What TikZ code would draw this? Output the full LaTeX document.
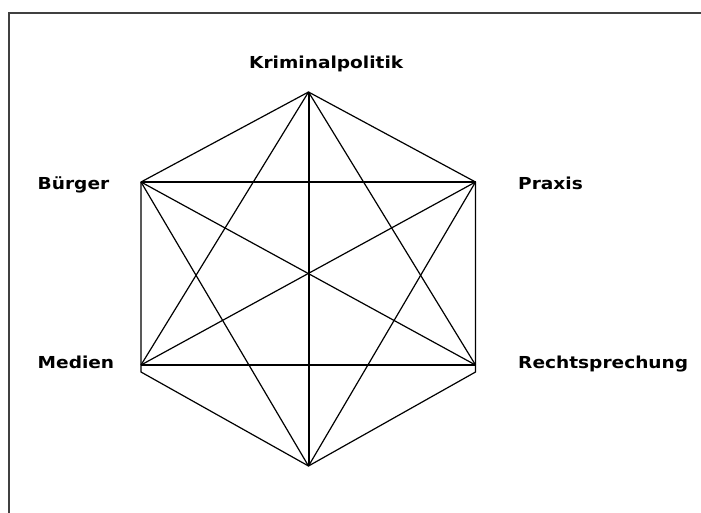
\documentclass[tikz,border=0pt]{standalone}
\usepackage{fontspec}
\setmainfont{DejaVu Sans}[FakeStretch=1.125]
\begin{document}
\begin{tikzpicture}[x=1pt,y=-1pt,
  lbl/.style={font=\fontsize{16.5}{19}\selectfont\bfseries, inner sep=0pt, anchor=base west},
  edge/.style={line width=1.2pt, black},
  axis/.style={line width=2pt, black},
  frame/.style={line width=1.5pt, draw=black!75}]
\useasboundingbox (0,0) rectangle (701,512);
\draw[frame] (9,13) rectangle (712,524);
% vertices
\coordinate (T) at (308.5,92);
\coordinate (UL) at (141,182);
\coordinate (UR) at (475.5,182);
\coordinate (LL) at (141,365);
\coordinate (LR) at (475.5,365);
\coordinate (B) at (308.5,466);
\coordinate (LLc) at (141,372);
\coordinate (LRc) at (475.5,372);
% hexagon outline
\draw[edge] (T) -- (UR) -- (LR) -- (LRc) -- (B) -- (LLc) -- (LL) -- (UL) -- cycle;
% chords
\draw[axis] (T) -- (B);
\draw[edge] (T) -- (LL);
\draw[edge] (T) -- (LR);
\draw[edge] (UL) -- (UR);
\draw[edge] (UL) -- (LR);
\draw[edge] (UL) -- (B);
\draw[edge] (UR) -- (LL);
\draw[edge] (UR) -- (B);
\draw[edge] (LL) -- (LR);
% labels
\node[lbl] (kp) at (249,68.5) {Kriminalpolitik};
\node[lbl] (bu) at (37.5,189) {Bürger};
\node[lbl] (pr) at (518,189) {Praxis};
\node[lbl] (me) at (37.5,368.5) {Medien};
\node[lbl] (rs) at (518,368.5) {Rechtsprechung};
\end{tikzpicture}
\end{document}
